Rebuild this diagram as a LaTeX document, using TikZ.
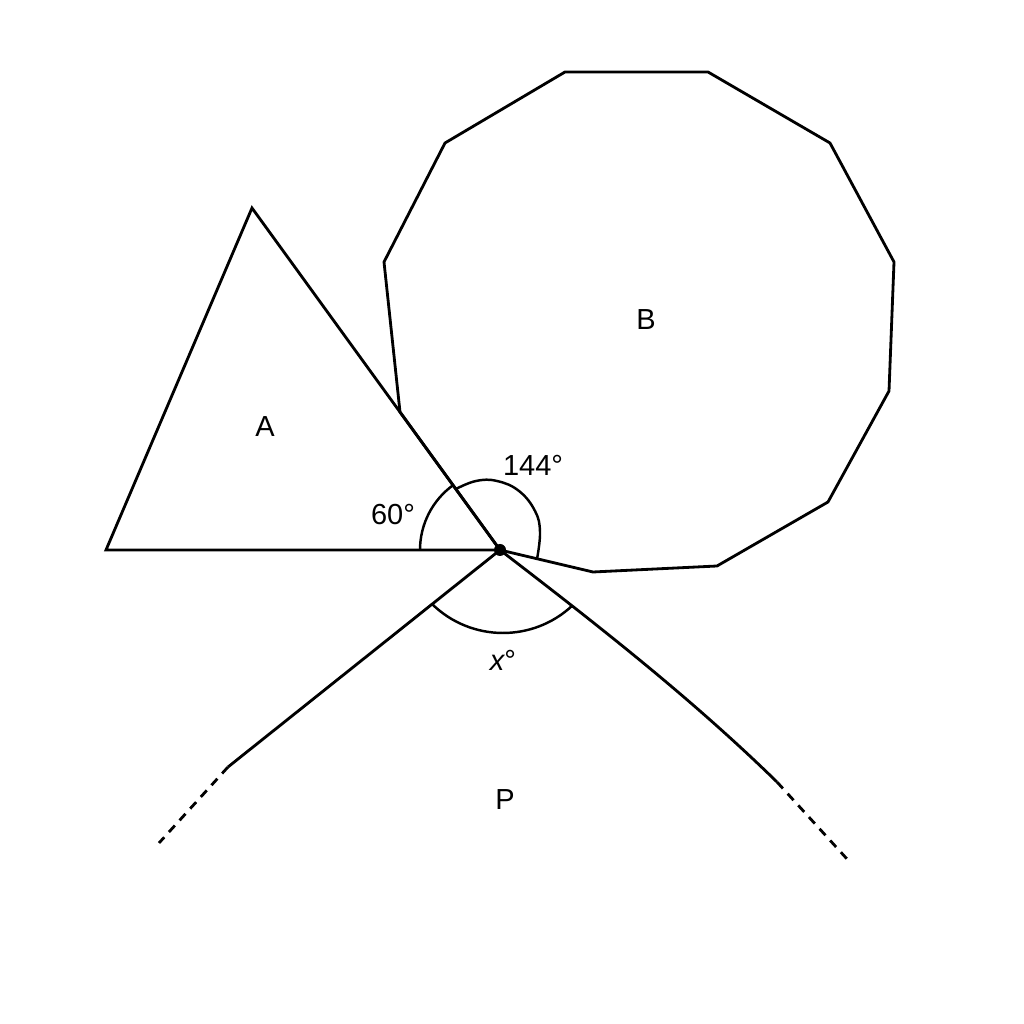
\documentclass[tikz,border=0pt]{standalone}
\usepackage{fontspec}
\setmainfont{Liberation Sans}
\usetikzlibrary{calc}

\begin{document}
\begin{tikzpicture}[%
    x=0.02cm,
    y=0.02cm,
    line join=miter,
    edge/.style={line width=1.6pt},
    farside/.style={line width=1.6pt, dash pattern=on 5pt off 4pt},
    anglearc/.style={line width=1.4pt},
    lbl/.style={font=\fontsize{16.5}{19}\selectfont, inner sep=0pt}
  ]
  \useasboundingbox (0,0) rectangle (1024,1024);

  % shared vertex
  \coordinate (O) at (500,474);

  % triangle A
  \coordinate (T1) at (252,816);
  \coordinate (T2) at (106,474);

  % polygon B
  \coordinate (B1) at (565,952);
  \coordinate (B2) at (708,952);
  \coordinate (B3) at (830,881);
  \coordinate (B4) at (894,762);
  \coordinate (B5) at (889,633);
  \coordinate (B6) at (828,522);
  \coordinate (B7) at (717,458);
  \coordinate (B8) at (593,452);
  \coordinate (B10) at (400,612);
  \coordinate (B11) at (384,762);
  \coordinate (B12) at (445,881);

  % polygon P
  \coordinate (L1) at (228,257);
  \coordinate (L2) at (159,181);
  \coordinate (R1) at (777,242);
  \coordinate (R2) at (847,165);

  \draw[edge] (B1) -- (B2) -- (B3) -- (B4) -- (B5) -- (B6) -- (B7) -- (B8)
              -- (O) -- (B10) -- (B11) -- (B12) -- cycle;
  \draw[edge] (O) -- (T1) -- (T2) -- cycle;

  \draw[edge] (O) -- (L1);
  \draw[farside] (L1) -- (L2);
  \draw[edge] (O) .. controls (595,401) and (690,327) .. (R1);
  \draw[farside] (R1) -- (R2);

  % angles
  \draw[anglearc] ([shift={(180:80)}]O) arc[start angle=180, end angle=126, radius=80];
  \draw[anglearc] plot[smooth, tension=0.7] coordinates {(456,535) (476,543) (497,543)
      (519,533) (535,513) (540,492) (537,465)};
  \draw[anglearc] ([shift={(225.6:101.4)}]503,492.4) arc[start angle=225.6, end angle=313.3, radius=101.4];

  \fill (O) circle[radius=6];

  \node[lbl] (labA) at (265,597) {A};
  \node[lbl] (labB) at (646,704) {B};
  \node[lbl] (labP) at (505,224) {P};
  \node[lbl] (ang60) at (393,509) {60°};
  \node[lbl] (ang144) at (533,559) {144°};
  \node[lbl] (angx) at (503,364) {{\itshape x}°};
\end{tikzpicture}
\end{document}
